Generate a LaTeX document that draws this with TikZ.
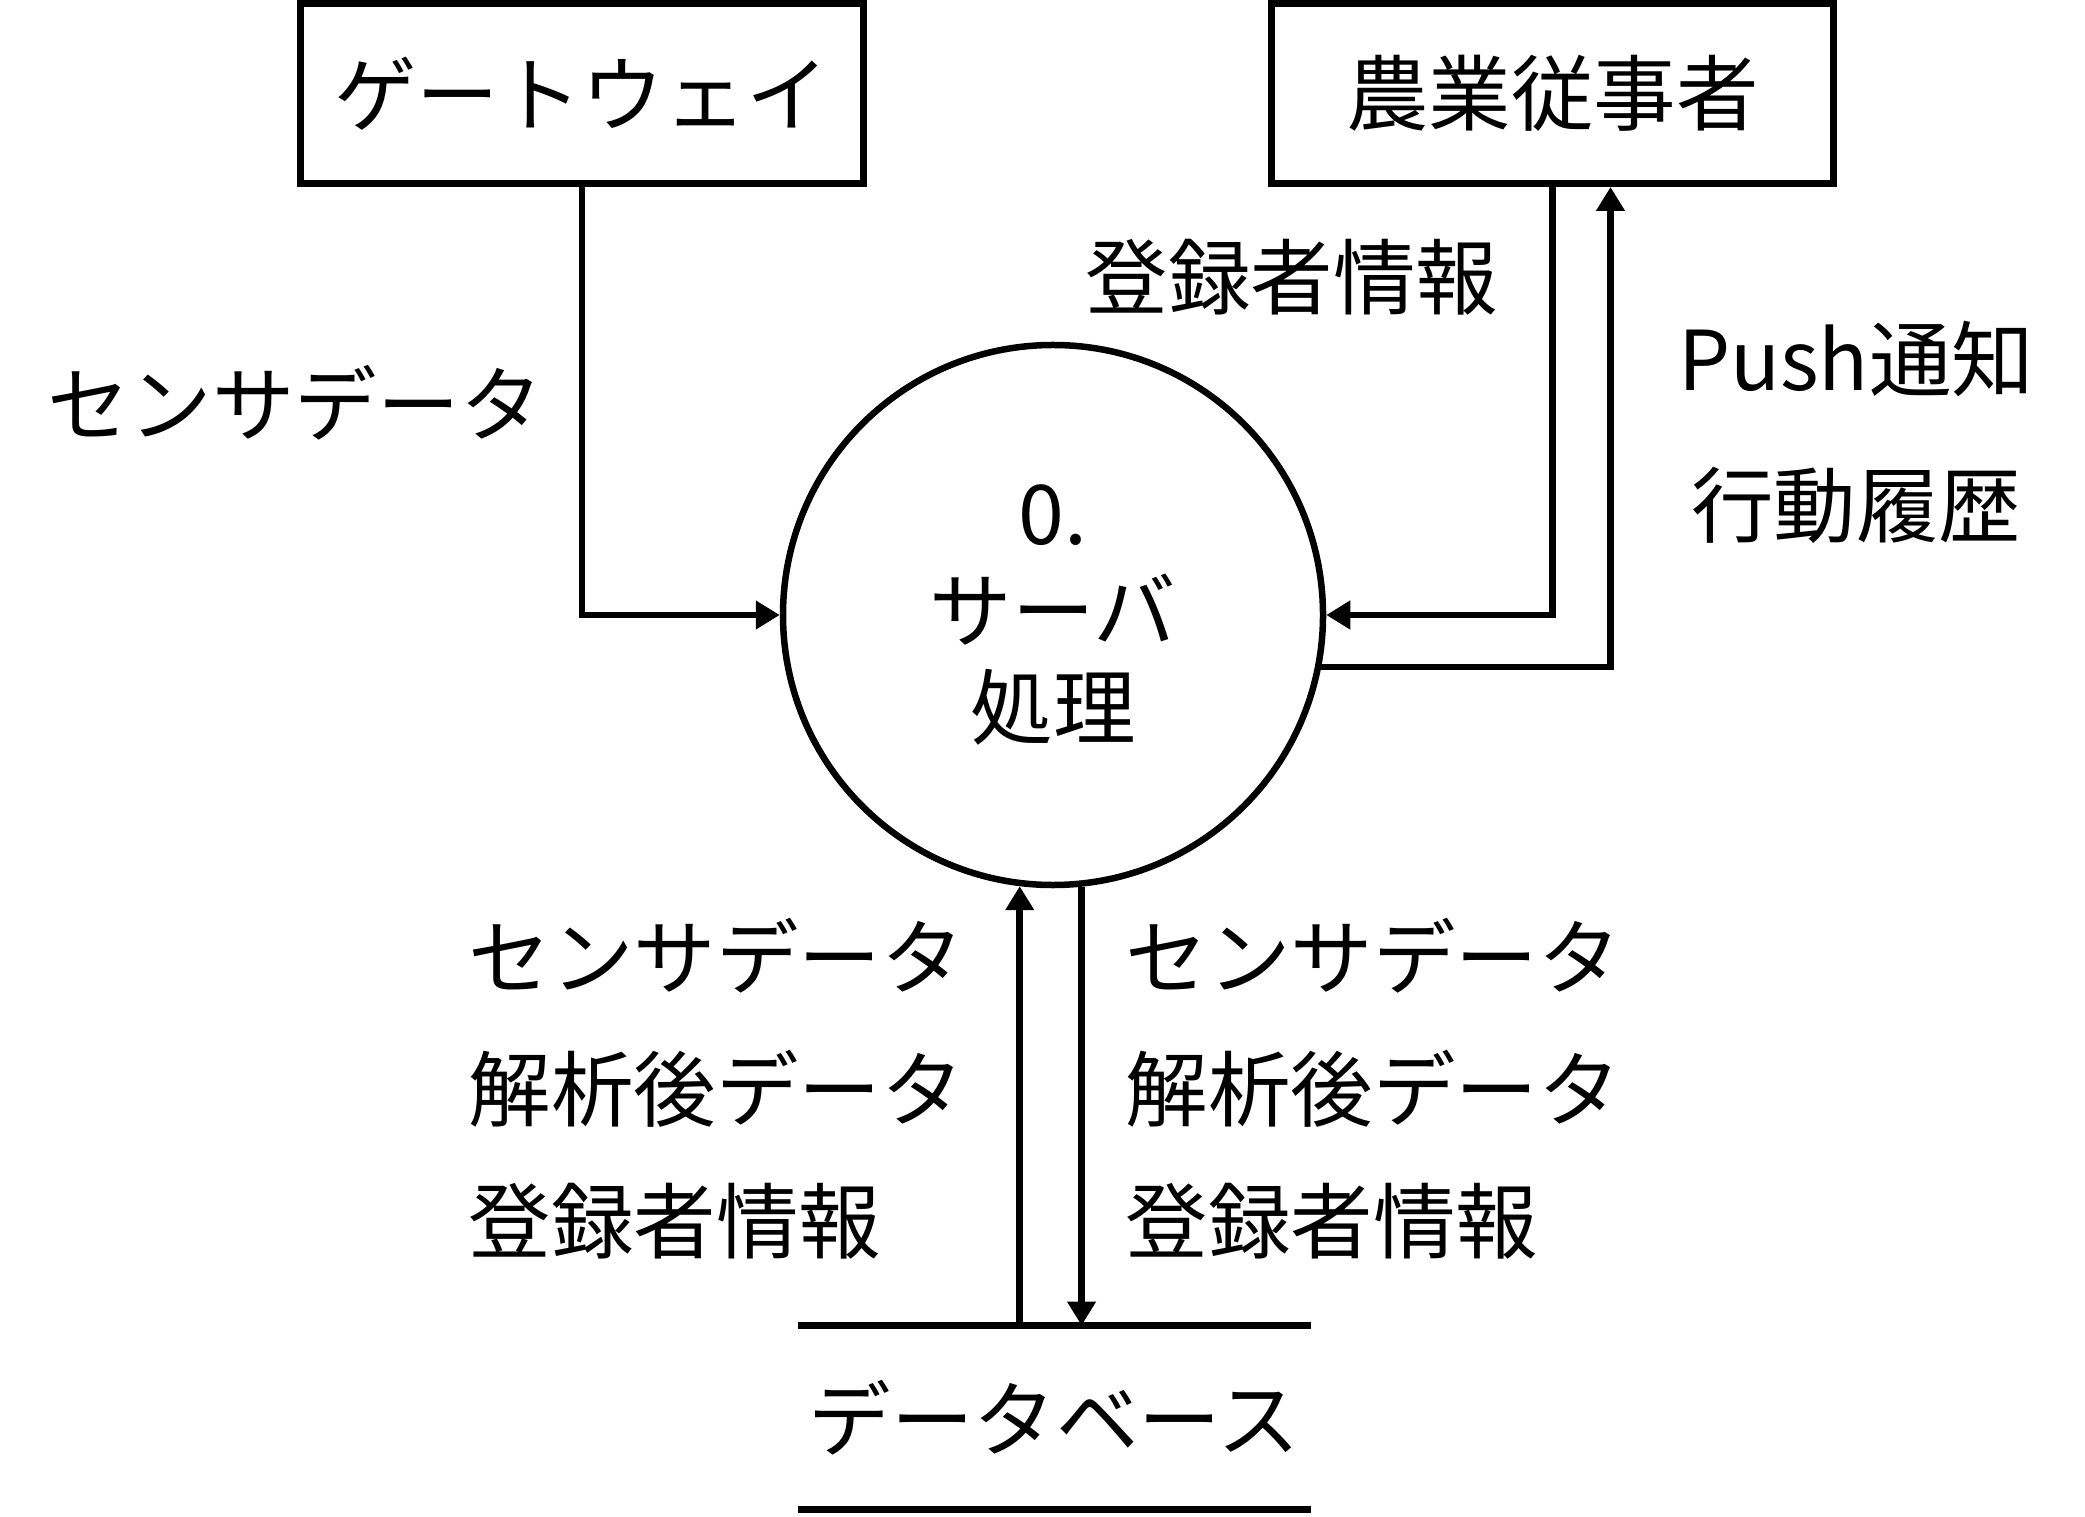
\documentclass[tikz,border=0pt]{standalone}
\usepackage{fontspec}
\setmainfont{Noto Sans CJK JP}
\usetikzlibrary{arrows.meta}

\tikzset{
  ent/.style={draw, line width=2.8pt, inner sep=0pt, minimum width=225pt, minimum height=71.8pt, font=\fontsize{33pt}{40pt}\selectfont},
  proc/.style={draw, circle, line width=2.6pt, inner sep=0pt, minimum size=216pt, align=center, font=\fontsize{33pt}{38.8pt}\selectfont},
  store/.style={inner sep=0pt, minimum width=204.8pt, minimum height=73.2pt, font=\fontsize{33pt}{40pt}\selectfont},
  flow/.style={line width=2.6pt, -{Triangle[length=9.6pt,width=11pt]}},
  lbl/.style={inner sep=0pt, font=\fontsize{33pt}{52.8pt}\selectfont},
}

\begin{document}
\begin{tikzpicture}[x=0.4pt,y=0.4pt,yscale=-1,xscale=1]
\useasboundingbox (0,0) rectangle (2085,1517);

%Shape: Rectangle [gateway]
\node[ent] (gw) at (581.75,93.75) {ゲートウェイ};
%Shape: Rectangle [farmer]
\node[ent] (farm) at (1552.5,93.75) {農業従事者};
%Shape: Circle [server]
\node[proc] (srv) at (1053,615) {0.\\サーバ\\処理};
%Shape: Data store
\node[store] (db) at (1054,1417.5) {データベース};
\draw[line width=2.8pt] (db.north west) -- (db.north east);
\draw[line width=2.8pt] (db.south west) -- (db.south east);

%Straight Lines [flows]
\coordinate (pushtop) at ([xshift=23.2pt]farm.south);
\draw[flow] (gw.south) |- (srv.west);
\draw[flow] (farm.south) |- (srv.east);
\draw[flow] (srv.-11.75) -| (pushtop);
\draw[flow] (db.north -| srv.-97.7) -- (srv.-97.7);
\draw[flow] (srv.-84) -- (srv.-84 |- db.north);

% Text Node
\node[lbl] (gwdata) at (295,403) {センサデータ};
% Text Node
\node[lbl] (reginfo) at (1292,277) {登録者情報};
% Text Node
\node[lbl, align=center, font=\fontsize{33pt}{58.4pt}\selectfont] (pushinfo) at (1856,432) {Push通知\\行動履歴};
% Text Node
\node[lbl, align=left, anchor=west] (upinfo) at (468,1089) {センサデータ\\解析後データ\\登録者情報};
% Text Node
\node[lbl, align=left, anchor=west] (downinfo) at (1125,1089) {センサデータ\\解析後データ\\登録者情報};

\end{tikzpicture}
\end{document}
